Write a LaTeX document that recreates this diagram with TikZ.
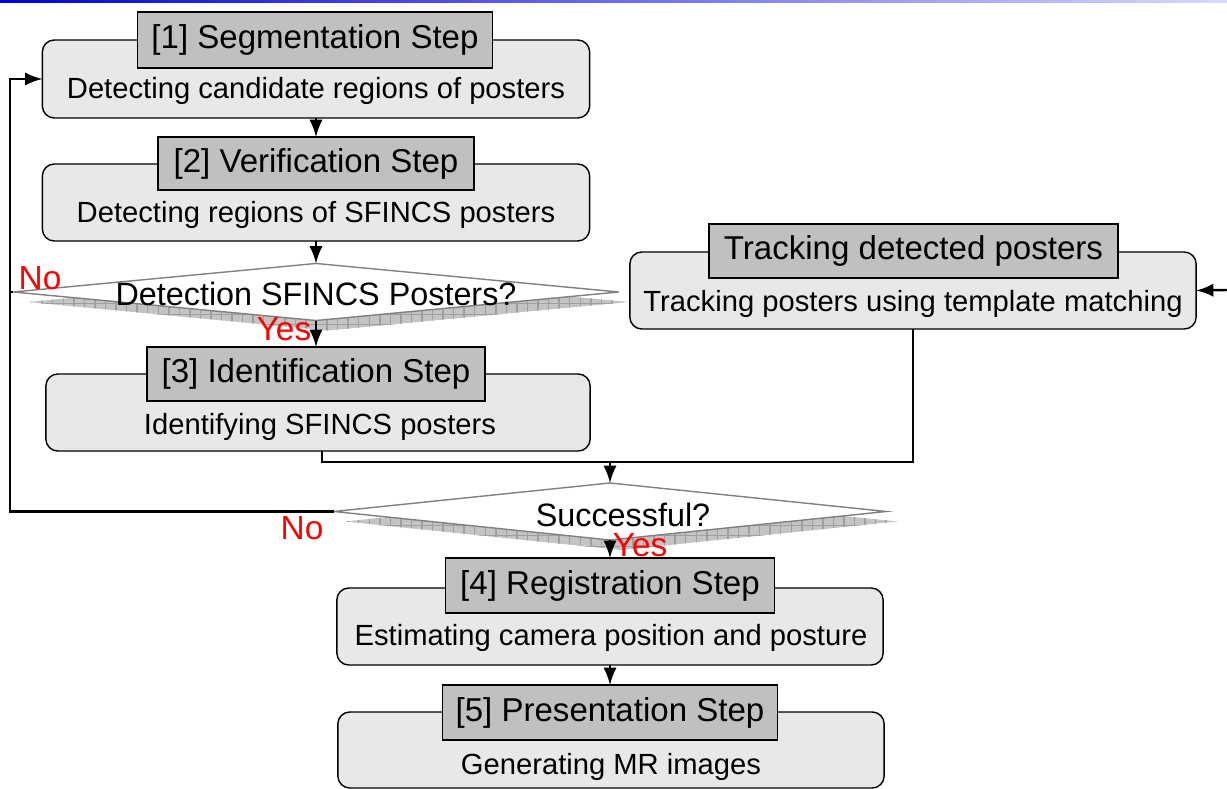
\documentclass[tikz,border=0pt]{standalone}
\usepackage{fontspec}
\setmainfont{Liberation Sans}
\usetikzlibrary{shapes.geometric,arrows,patterns,calc}
\definecolor{bodygray}{RGB}{232,232,232}
\definecolor{titlegray}{RGB}{192,192,192}
\definecolor{shadowgray}{RGB}{196,196,196}
\definecolor{edgegray}{RGB}{128,128,128}
\tikzset{
    stepbody/.style={rectangle, rounded corners=0.12cm, draw=black, fill=bodygray, thin, inner sep=0pt, outer sep=0pt},
    steptitle/.style={rectangle, draw=black, fill=titlegray, thin, inner sep=0pt, outer sep=0pt, font=\fontsize{9.4}{11}\selectfont},
    bodytext/.style={inner sep=0pt, font=\fontsize{8.3}{10}\selectfont},
    decision/.style={diamond, draw=edgegray, fill=white, inner sep=0pt, outer sep=0pt},
    decshadow/.style={diamond, fill=shadowgray, inner sep=0pt, outer sep=0pt, postaction={pattern=grid, pattern color=gray!75}},
    dectext/.style={inner sep=0pt, font=\fontsize{9.2}{11}\selectfont},
    answer/.style={inner sep=0pt, text=red, font=\fontsize{9.5}{11}\selectfont},
    flow/.style={-latex, line width=0.7pt, black},
    link/.style={line width=0.7pt, black},
}

\begin{document}
\begin{tikzpicture}[x=0.01cm, y=-0.01cm]
    \useasboundingbox (0,0) rectangle (1227,789);
    \shade[left color=blue!85!black, right color=blue!15] (0,0) rectangle (1227,3);

    % [1] Segmentation
    \node[stepbody, minimum width=5.47cm, minimum height=0.78cm] (s1body) at (316,79) {};
    \node[steptitle, minimum width=3.55cm, minimum height=0.56cm] (s1title) at (315,40) {[1] Segmentation Step};
    \node[bodytext] (s1text) at (316,91) {Detecting candidate regions of posters};

    % [2] Verification
    \node[stepbody, minimum width=5.47cm, minimum height=0.77cm] (s2body) at (316,202.5) {};
    \node[steptitle, minimum width=3.16cm, minimum height=0.53cm] (s2title) at (316,163.5) {[2] Verification Step};
    \node[bodytext] (s2text) at (316,215) {Detecting regions of SFINCS posters};

    % first check
    \node[decshadow, minimum width=6.0cm, minimum height=0.57cm] (d1shadow) at (328,302) {};
    \node[decision, minimum width=6.05cm, minimum height=0.57cm] (dec1) at (316,292) {};
    \node[dectext] (d1text) at (316,294) {Detection SFINCS Posters?};
    \node[answer] (no1) at (40,278) {No};
    \node[answer] (yes1) at (284,329) {Yes};

    % [3] Identification
    \node[stepbody, minimum width=5.44cm, minimum height=0.77cm] (s3body) at (318,412.5) {};
    \node[steptitle, minimum width=3.38cm, minimum height=0.54cm] (s3title) at (316,374) {[3] Identification Step};
    \node[bodytext] (s3text) at (320,427) {Identifying SFINCS posters};

    % Tracking
    \node[stepbody, minimum width=5.66cm, minimum height=0.77cm] (trackbody) at (913,290.5) {};
    \node[steptitle, minimum width=4.09cm, minimum height=0.54cm] (tracktitle) at (913.5,251) {Tracking detected posters};
    \node[bodytext] (tracktext) at (913,304) {Tracking posters using template matching};

    % second check
    \node[decshadow, minimum width=5.52cm, minimum height=0.57cm] (d2shadow) at (621,521.5) {};
    \node[decision, minimum width=5.52cm, minimum height=0.57cm] (dec2) at (610,511.5) {};
    \node[dectext] (d2text) at (623,515) {Successful?};
    \node[answer] (no2) at (302,528) {No};
    \node[answer] (yes2) at (640,545) {Yes};

    % [4] Registration
    \node[stepbody, minimum width=5.46cm, minimum height=0.77cm] (s4body) at (610,626.5) {};
    \node[steptitle, minimum width=3.29cm, minimum height=0.55cm] (s4title) at (610,585.5) {[4] Registration Step};
    \node[bodytext] (s4text) at (611,638) {Estimating camera position and posture};

    % [5] Presentation
    \node[stepbody, minimum width=5.46cm, minimum height=0.76cm] (s5body) at (611,750) {};
    \node[steptitle, minimum width=3.35cm, minimum height=0.55cm] (s5title) at (610,712.5) {[5] Presentation Step};
    \node[bodytext] (s5text) at (611,767) {Generating MR images};

    \coordinate (loopx) at (10,0);
    \coordinate (merge) at (610,462);
    \coordinate (trackin) at (1227,290);

    % connectors
    \draw[flow] (s1body.south) -- (s2title.north);
    \draw[flow] (s2body.south) -- (dec1.north);
    \draw[flow] (dec1.south) -- (s3title.north);
    \draw[link] (dec1.west) -- (dec1.west -| loopx);
    \draw[flow] (dec2.west) -- (dec2.west -| loopx) |- (s1body.west);
    \draw[link] ($(s3body.south)+(4,0)$) |- (merge);
    \draw[link] (trackbody.south) |- (merge);
    \draw[flow] (merge) -- (dec2.north);
    \draw[flow] (dec2.south) -- (s4title.north);
    \draw[flow] (s4body.south) -- (s5title.north);
    \draw[flow] (trackin) -- (trackbody.east);
\end{tikzpicture}
\end{document}
